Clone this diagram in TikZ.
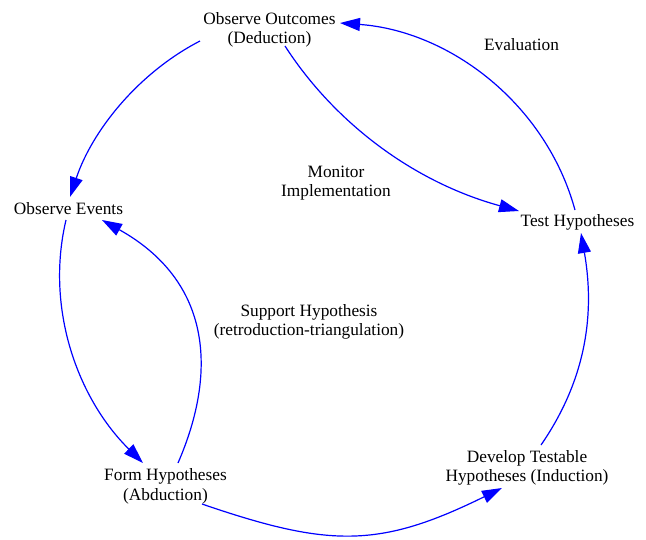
\documentclass[tikz,border=0pt]{standalone}
\usepackage{fontspec}
\setmainfont{Liberation Serif}
\usetikzlibrary{arrows.meta}
\definecolor{flowblue}{RGB}{0,0,255}
\tikzset{
  stage/.style={inner sep=0pt, align=center, font=\fontsize{17.3}{19.2}\selectfont, text=black},
  note/.style={stage},
  flow/.style={draw=flowblue, line width=1.2pt, -{Triangle[length=20pt,width=13pt]}, fill=none},
}
\begin{document}
\begin{tikzpicture}[x=1pt, y=-1pt]
  \useasboundingbox (0,0) rectangle (646,539);

  % stages of the cycle
  \node[stage] (oo) at (269.5,30)  {Observe Outcomes\\(Deduction)};
  \node[stage] (oe) at (68.5,209)  {Observe Events};
  \node[stage] (th) at (577.5,222.7) {Test Hypotheses};
  \node[stage] (fh) at (165.5,486.4) {Form Hypotheses\\(Abduction)};
  \node[stage] (dt) at (527,467.7) {Develop Testable\\Hypotheses (Induction)};

  % free labels
  \node[note] (ev) at (521.5,44.2) {Evaluation};
  \node[note] (mi) at (336,183.5) {Monitor\\Implementation};
  \node[note] (sh) at (309,321.9) {Support Hypothesis\\(retroduction-triangulation)};

  % connectors
  \draw[flow] ([shift={(-69.5,11)}]oo.center) .. controls +(-62,32) and +(22,-66) .. ([shift={(1.5,-12)}]oe.center);
  \draw[flow] ([shift={(-2.5,11)}]oe.center) .. controls +(-21,89) and +(-65,-64) .. ([shift={(-22.5,-23.4)}]fh.center);
  \draw[flow] ([shift={(12.5,-23.4)}]fh.center) .. controls +(40,-92) and +(109,61) .. ([shift={(33.5,11)}]oe.center);
  \draw[flow] ([shift={(36.5,17.6)}]fh.center) .. controls +(128,44) and +(-122,60) .. ([shift={(-25,20.3)}]dt.center);
  \draw[flow] ([shift={(14,-22.7)}]dt.center) .. controls +(51,-74) and +(12,69) .. ([shift={(3.5,10.3)}]th.center);
  \draw[flow] ([shift={(-2.5,-12.7)}]th.center) .. controls +(-29,-106) and +(110,8) .. ([shift={(70.5,-7)}]oo.center);
  \draw[flow] ([shift={(15.5,16)}]oo.center) .. controls +(49,76) and +(-106,-29) .. ([shift={(-58.5,-11.7)}]th.center);
\end{tikzpicture}
\end{document}
